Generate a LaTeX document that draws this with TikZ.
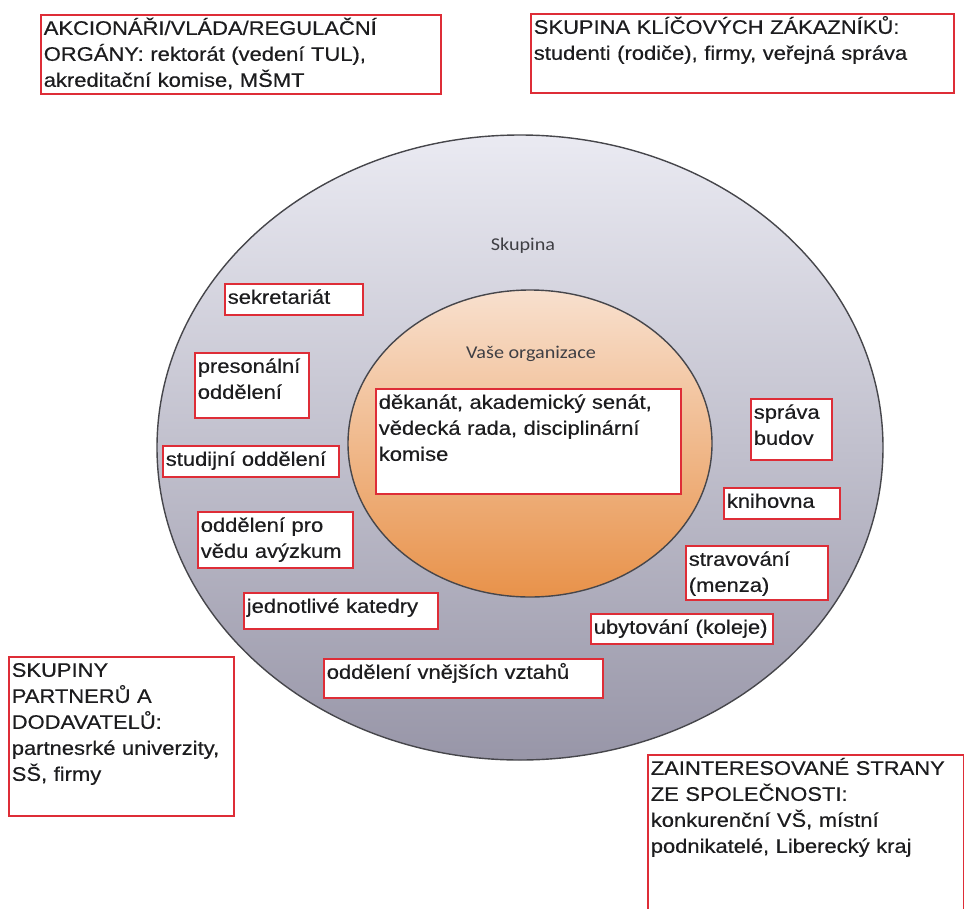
\documentclass[tikz,border=0pt]{standalone}
\usepackage{fontspec}
\setmainfont{Liberation Sans}[FakeStretch=1.12, FakeBold=0.4]
\newfontfamily\ringfont{Carlito}[FakeStretch=1.12]
\usetikzlibrary{positioning}
\usetikzlibrary{shapes.geometric}
\definecolor{boxred}{RGB}{222,45,55}
\definecolor{textgray}{RGB}{28,28,30}
\definecolor{ringgray}{RGB}{70,70,75}
\definecolor{outertop}{RGB}{234,234,242}
\definecolor{outerbottom}{RGB}{152,150,168}
\definecolor{innertop}{RGB}{248,224,206}
\definecolor{innerbottom}{RGB}{232,146,74}

\begin{document}
\begin{tikzpicture}[x=1pt, y=-1pt,
    rbox/.style={draw=boxred, line width=1.6pt, fill=white, anchor=north west,
      align=left, inner xsep=3pt, inner ysep=0pt, text height=20pt,
      text=textgray, font=\fontsize{19.6}{26}\selectfont},
    ring/.style={ellipse, draw=ringgray, line width=1.4pt, inner sep=0pt},
    ringlabel/.style={anchor=base, text=ringgray!90!black, font=\ringfont\fontsize{18}{22}\selectfont}]
        \useasboundingbox (0,0) rectangle (964,908);
        \clip (0,0) rectangle (964,908);
        % circles %
        \node[ring, minimum width=726, minimum height=625,
              top color=outertop, bottom color=outerbottom] (skupina) at (520,447.5) {};
        \node[ring, minimum width=364, minimum height=307,
              top color=innertop, bottom color=innerbottom] (organizace) at (530,443.5) {};
        \node[ringlabel] (skupinatext) at (523,250) {Skupina};
        \node[ringlabel] (organizacetext) at (531,358) {Vaše organizace};
        % outer groups %
        \node[rbox, text width=394, text depth=59] (akcionari) at (40,14)
            {AKCIONÁŘI/VLÁDA/REGULAČNÍ\\ORGÁNY: rektorát (vedení TUL),\\akreditační komise, MŠMT};
        \node[rbox, text width=417, text depth=59] (zakaznici) at (530,13)
            {SKUPINA KLÍČOVÝCH ZÁKAZNÍKŮ:\\studenti (rodiče), firmy, veřejná správa};
        \node[rbox, text width=219, text depth=139] (partneri) at (8,656)
            {SKUPINY\\PARTNERŮ A\\DODAVATELŮ:\\partnesrké univerzity,\\SŠ, firmy};
        \node[rbox, text width=310, text depth=160] (spolecnost) at (647,754)
            {ZAINTERESOVANÉ STRANY\\ZE SPOLEČNOSTI:\\konkurenční VŠ, místní\\podnikatelé, Liberecký kraj};
        % inside %
        \node[rbox, text width=299, text depth=85] (dekanat) at (375,388)
            {děkanát, akademický senát,\\vědecká rada, disciplinární\\komise};
        \node[rbox, text width=132, text depth=11] (sekretariat) at (224,283) {sekretariát};
        \node[rbox, text width=108, text depth=45] (personalni) at (194,352) {presonální\\oddělení};
        \node[rbox, text width=170, text depth=11] (studijni) at (162,445) {studijní oddělení};
        \node[rbox, text width=149, text depth=36] (veda) at (197,511) {oddělení pro\\vědu avýzkum};
        \node[rbox, text width=188, text depth=16] (katedry) at (243,592) {jednotlivé katedry};
        \node[rbox, text width=273, text depth=19] (vztahy) at (323,658) {oddělení vnějších vztahů};
        \node[rbox, text width=75, text depth=41] (budovy) at (750,398) {správa\\budov};
        \node[rbox, text width=110, text depth=11] (knihovna) at (723,487) {knihovna};
        \node[rbox, text width=136, text depth=34] (menza) at (685,545) {stravování\\(menza)};
        \node[rbox, text width=176, text depth=10] (koleje) at (590,613) {ubytování (koleje)};
\end{tikzpicture}
\end{document}
